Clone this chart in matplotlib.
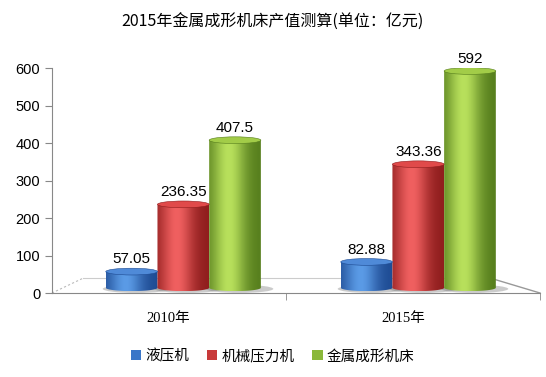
import numpy as np
import matplotlib
matplotlib.use('Agg')
import matplotlib.pyplot as plt
from matplotlib.patches import Polygon, Ellipse, Patch
from matplotlib.colors import to_rgb

plt.rcParams['font.family'] = ['Liberation Sans', 'Noto Sans CJK SC']

# data
years = ['2010年', '2015年']
series = ['液压机', '机械压力机', '金属成形机床']
values = {
    '液压机': [57.05, 82.88],
    '机械压力机': [236.35, 343.36],
    '金属成形机床': [407.5, 592],
}
labels = {
    '液压机': ['57.05', '82.88'],
    '机械压力机': ['236.35', '343.36'],
    '金属成形机床': ['407.5', '592'],
}
# (dark edge, light highlight, top cap, legend)
colors = {
    '液压机': ('#1d4a92', '#5b9be6', '#4f8ad8', '#3a76c8'),
    '机械压力机': ('#8e1c1c', '#f06060', '#e04a4a', '#c83a3a'),
    '金属成形机床': ('#557d1c', '#b8e05c', '#a2cc48', '#8ab83a'),
}

fig = plt.figure(figsize=(5.46, 3.77), dpi=100)
ax = fig.add_axes([0.0952, 0.2228, 0.8938, 0.5968])
ax.set_xlim(-0.494, 1.583)
ax.set_ylim(0, 600)

w = 0.22
shift = 0.065
eh = 9  # half height of ellipse in data units
t = np.linspace(0, 1, 200)
prof = np.exp(-((t - 0.38) / 0.32) ** 2)

# floor lines
ax.plot([-0.494, -0.36], [0, 40], color='#bbbbbb', lw=0.8, ls=(0, (2, 2)), clip_on=False)
ax.plot([-0.36, 1.37], [40, 40], color='#cccccc', lw=0.8, clip_on=False)
ax.plot([1.37, 1.583], [40, 0], color='#999999', lw=1.0, clip_on=False)

for j, s in enumerate(series):
    dark, light, top, _ = colors[s]
    dk, lt = np.array(to_rgb(dark)), np.array(to_rgb(light))
    grad = (dk[None, :] * (1 - prof[:, None]) + lt[None, :] * prof[:, None])[None, :, :]
    for i, v in enumerate(values[s]):
        x0 = i + shift + (j - 1) * w - w / 2
        cx = x0 + w / 2
        base = 14
        # shadow
        ax.add_patch(Ellipse((cx + 0.02, base - 3), w * 1.3, eh * 2.4, color='#555555', alpha=0.3, lw=0, zorder=1))
        th = np.linspace(np.pi, 2 * np.pi, 60)
        pts = np.column_stack([cx + w / 2 * np.cos(th), base + eh * np.sin(th)])
        pts = np.vstack([pts, [[x0 + w, v], [x0, v]]])
        poly = Polygon(pts, closed=True, facecolor='none', edgecolor='none', zorder=2)
        ax.add_patch(poly)
        im = ax.imshow(grad, extent=[x0, x0 + w, base - eh, v], aspect='auto', zorder=2, interpolation='bilinear')
        im.set_clip_path(poly)
        ax.add_patch(Ellipse((cx, v), w, eh * 2, facecolor=top, edgecolor=dark, lw=0.4, zorder=3))
        ax.text(cx, v + 14, labels[s][i], ha='center', va='bottom', fontsize=11, zorder=4)

ax.spines['top'].set_visible(False)
ax.spines['right'].set_visible(False)
ax.spines['left'].set_color('#888888')
ax.spines['bottom'].set_color('#888888')
ax.set_yticks(range(0, 601, 100))
ax.tick_params(axis='y', direction='out', length=5, color='#888888', labelsize=10.5)
ax.set_xticks([0, 1])
ax.set_xticklabels(years, family=['Liberation Serif', 'Noto Sans CJK SC'], fontsize=10.5)
ax.tick_params(axis='x', length=0, pad=14)
ax.set_xticks([0.5, 1.583], minor=True)
ax.tick_params(axis='x', which='minor', direction='out', length=5, color='#888888')

fig.text(0.5, 0.942, '2015年金属成形机床产值测算(单位：亿元)', ha='center', va='center',
         fontsize=11.5, family=['Noto Sans CJK SC', 'DejaVu Sans'])

handles = [Patch(facecolor=colors[s][3], edgecolor='none') for s in series]
fig.legend(handles, series, loc='center', bbox_to_anchor=(0.5, 0.055), ncol=3, frameon=False,
           handlelength=0.7, handleheight=0.7, handletextpad=0.3, columnspacing=1.2,
           prop={'family': 'Noto Sans CJK SC', 'size': 10.5})

fig.savefig('out.png', dpi=100)
